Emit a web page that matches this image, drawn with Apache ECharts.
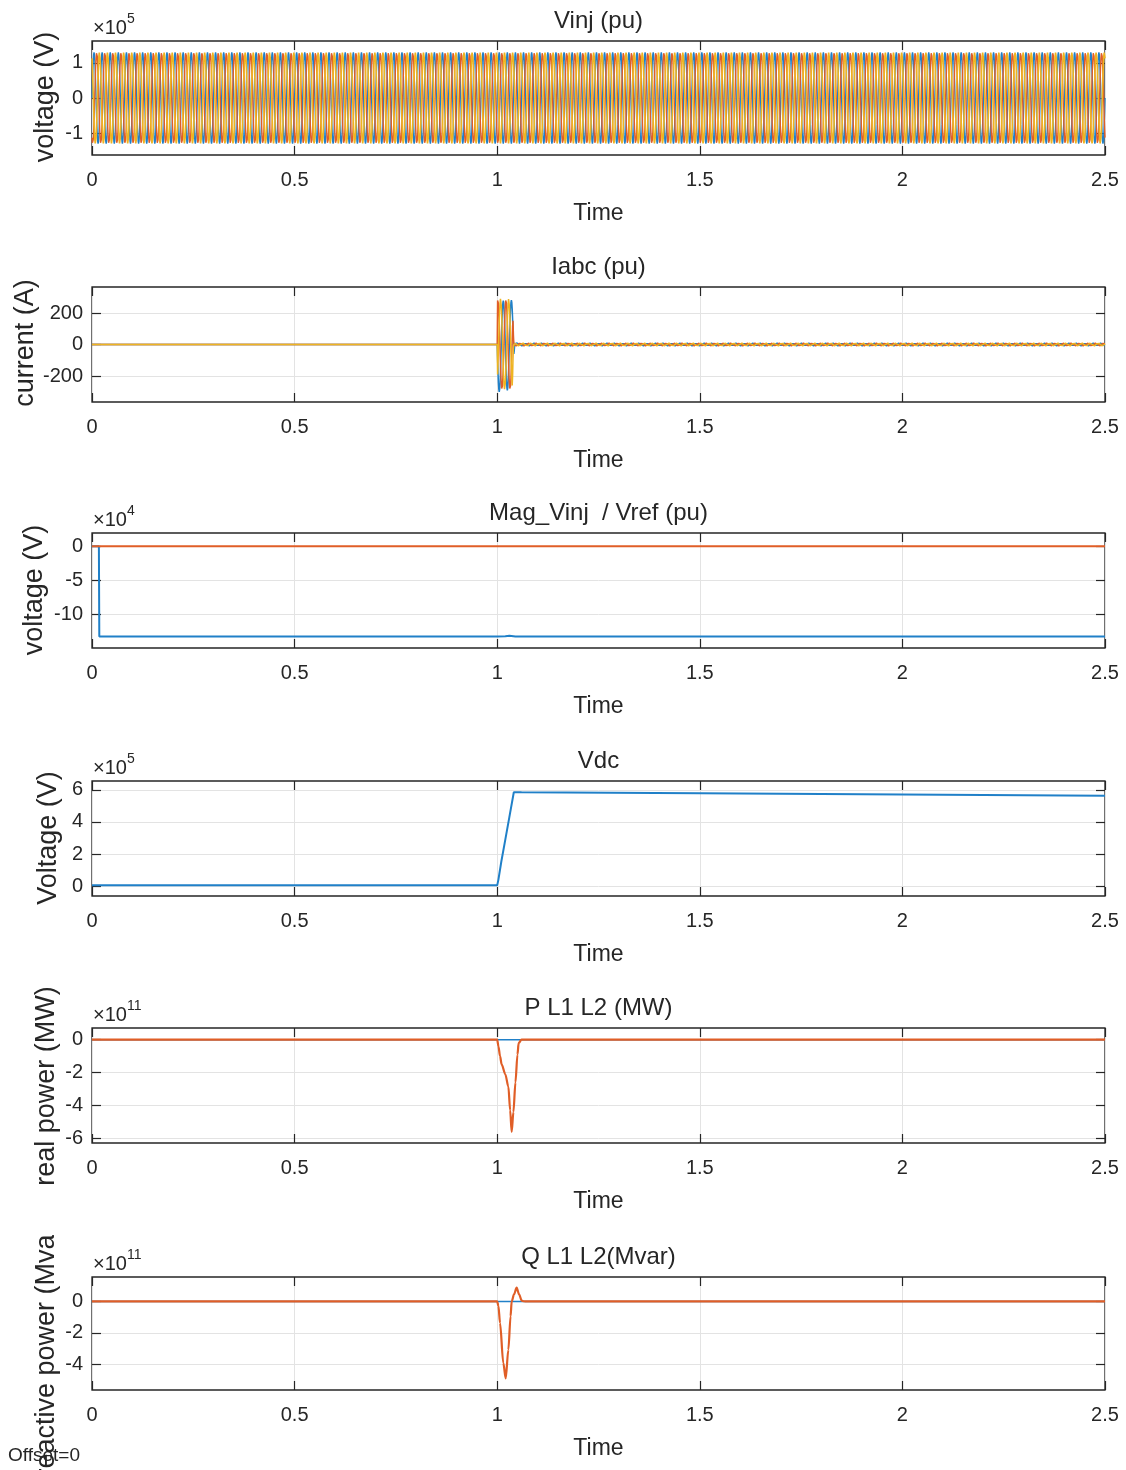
<!DOCTYPE html>
<html><head><meta charset="utf-8">
<script src="https://cdn.jsdelivr.net/npm/echarts@6/dist/echarts.min.js"></script>
<style>html,body{margin:0;padding:0;background:#fff}#c{width:1126px;height:1470px}</style>
</head><body><div id="c"></div>
<script>
// ===================== DATA =====================
const titles = ['Vinj (pu)', 'Iabc (pu)', 'Mag_Vinj  / Vref (pu)', 'Vdc', 'P L1 L2 (MW)', 'Q L1 L2(Mvar)'];
const yNames = ['voltage (V)', 'current (A)', 'voltage (V)', 'Voltage (V)', 'real power (MW)', 'reactive power (Mvar)'];
const xName = 'Time';
const xTickValues = [0, 0.5, 1, 1.5, 2, 2.5];
const yExponents = [5, null, 4, 5, 11, 11];
const yScales = [1e5, 1, 1e4, 1e5, 1e11, 1e11];
const yMins = [-162000, -365, -149600, -62500, -6.28e11, -5.62e11];
const yMaxs = [162000, 365, 19400, 656000, 0.71e11, 1.55e11];
const yTicks1 = [-100000, 0, 100000];
const yTicks2 = [-200, 0, 200];
const yTicks3 = [-100000, -50000, 0];
const yTicks4 = [0, 200000, 400000, 600000];
const yTicks5 = [-6e11, -4e11, -2e11, 0];
const yTicks6 = [-4e11, -2e11, 0];

// Plot 1: injected three-phase voltage, one 50 Hz cycle sampled every 1 ms (read amplitude ~1.3e5 V)
const vinjStep = 0.001;
const vinjCycles = 125;
const vinjCycleA = [0, 40200, 76400, 105200, 123600, 130000, 123600, 105200, 76400, 40200, 0, -40200, -76400, -105200, -123600, -130000, -123600, -105200, -76400, -40200];
const vinjCycleB = [-112600, -127200, -129300, -118800, -96600, -65000, -27000, 13600, 52900, 87000, 112600, 127200, 129300, 118800, 96600, 65000, 27000, -13600, -52900, -87000];
const vinjCycleC = [112600, 87000, 52900, 13600, -27000, -65000, -96600, -118800, -129300, -127200, -112600, -87000, -52900, -13600, 27000, 65000, 96600, 118800, 129300, 127200];

// Plot 2: currents. zero until 1.0 s, burst from 1.000 s (1 ms steps), then small ripple cycles to 2.5 s
const iabcZeroTimes = [0, 1.0];
const iabcZeroValues = [0, 0];
const iBurstStart = 1.0;
const iBurstStep = 0.001;
const iaBurst = [0, -93, -176, -243, -285, -300, -285, -243, -176, -93, 0, 86, 164, 225, 264, 278, 264, 225, 164, 86, 0, -90, -171, -235, -276, -292, -276, -235, -171, -90, 0, 87, 166, 228, 268, 282, 268, 228, 166, 87, 0, -60, -40, -10, 5];
const ibBurst = [0, 279, 283, 260, 212, 143, 59, -30, -116, -191, -247, -279, -283, -260, -212, -143, -59, 30, 116, 191, 247, 279, 283, 260, 212, 143, 59, -30, -116, -191, -247, -279, -283, -260, -212, -143, -59, 30, 116, 150, 60, 10, -5, -8, -9];
const icBurst = [0, -191, -116, -30, 59, 143, 212, 260, 290, 279, 247, 191, 116, 30, -59, -143, -212, -260, -283, -279, -247, -191, -116, -30, 59, 143, 212, 260, 288, 279, 247, 191, 116, 30, -59, -143, -212, -260, -200, -90, -20, 0, 6, 9, 8];
const iRippleEnd = 2.5;
const iaRipple = [0, 3, 5, 7, 9, 9, 9, 7, 5, 3, 0, -3, -5, -7, -9, -9, -9, -7, -5, -3];
const ibRipple = [-8, -9, -9, -8, -7, -5, -2, 1, 4, 6, 8, 9, 9, 8, 7, 5, 2, -1, -4, -6];
const icRipple = [8, 6, 4, 1, -2, -5, -7, -8, -9, -9, -8, -6, -4, -1, 2, 5, 7, 8, 9, 9];

// Plot 3: Mag_Vinj (blue) and Vref (orange)
const magVinjTimes = [0, 0.017, 0.018, 1.0, 1.02, 1.03, 1.045, 1.5, 2.5];
const magVinjValues = [0, 0, -132600, -132600, -132200, -131500, -132600, -132600, -132700];
const vrefTimes = [0, 2.5];
const vrefValues = [0, 0];

// Plot 4: Vdc
const vdcTimes = [0, 1.0, 1.003, 1.01, 1.02, 1.03, 1.041, 1.06, 1.5, 2.0, 2.5];
const vdcValues = [4000, 4000, 40000, 150000, 290000, 430000, 586000, 585000, 579000, 572000, 564000];

// Plot 5: P L1 (blue), P L2 (orange)
const pL1Times = [0, 2.5];
const pL1Values = [0, 0];
const pL2Times = [0, 1.0, 1.003, 1.007, 1.011, 1.02, 1.0275, 1.032, 1.0357, 1.04, 1.045, 1.05, 1.053, 1.06, 2.5];
const pL2Values = [0, 0, -0.4e11, -1.0e11, -1.5e11, -2.1e11, -2.85e11, -4.3e11, -5.6e11, -4.4e11, -2.6e11, -0.9e11, -0.2e11, 0, 0];

// Plot 6: Q L1 (blue), Q L2 (orange)
const qL1Times = [0, 2.5];
const qL1Values = [0, 0];
const qL2Times = [0, 1.0, 1.003, 1.007, 1.015, 1.021, 1.0275, 1.033, 1.0357, 1.0415, 1.048, 1.054, 1.0605, 1.066, 1.072, 2.5];
const qL2Values = [0, 0, -0.3e11, -1.36e11, -3.9e11, -4.88e11, -3.07e11, -0.94e11, 0, 0.45e11, 0.88e11, 0.45e11, 0.05e11, 0.01e11, 0, 0];

const offsetText = 'Offset=0';

// ===================== BUILD =====================
const FONT = '"Liberation Sans", Arial, Helvetica, sans-serif';
const TXT = '#262626';
const BLUE = '#2080c8', ORANGE = '#e05e27', YELLOW = '#eeb421';
const GRIDC = '#e3e3e3';
const yTickSets = [yTicks1, yTicks2, yTicks3, yTicks4, yTicks5, yTicks6];

const boxes = [
  {top: 41, h: 114}, {top: 287, h: 115}, {top: 533, h: 115},
  {top: 781, h: 115}, {top: 1028, h: 115}, {top: 1277, h: 113}
];
const LEFT = 92, RIGHT = 1105, W = RIGHT - LEFT;

function r6(t) { return Math.round(t * 1e6) / 1e6; }
function pairs(ts, vs) { return ts.map((t, i) => [t, vs[i]]); }
function tile(cycle, step, n) {
  const out = [];
  for (let k = 0; k <= n * cycle.length; k++) out.push([r6(k * step), cycle[k % cycle.length]]);
  return out;
}
function currentSeries(burst, ripple) {
  const out = pairs(iabcZeroTimes, iabcZeroValues);
  burst.forEach((v, k) => out.push([r6(iBurstStart + k * iBurstStep), v]));
  const t0 = iBurstStart + burst.length * iBurstStep;
  for (let j = 0; r6(t0 + j * iBurstStep) <= iRippleEnd; j++) out.push([r6(t0 + j * iBurstStep), ripple[j % ripple.length]]);
  return out;
}

const grids = [], xAxes = [], yAxes = [], titleArr = [], series = [], graphics = [];
const tickStyle = {color: TXT, width: 1.2};
boxes.forEach((b, i) => {
  grids.push({left: LEFT, top: b.top, width: W, height: b.h, show: true, borderColor: TXT, borderWidth: 1.3, containLabel: false});
  titleArr.push({text: titles[i], left: LEFT + W / 2, top: b.top - 33, textAlign: 'center', padding: 0,
    textStyle: {fontFamily: FONT, fontSize: 24, fontWeight: 'normal', color: TXT, lineHeight: 26}});
});
boxes.forEach((b, i) => {
  xAxes.push({type: 'value', gridIndex: i, min: 0, max: 2.5, interval: 0.5, position: 'bottom',
    axisLine: {show: false, onZero: false},
    axisTick: {show: true, inside: true, length: 9, lineStyle: tickStyle},
    axisLabel: {show: true, margin: 15, fontSize: 20, color: TXT, fontFamily: FONT, showMinLabel: true, showMaxLabel: true,
      formatter: v => String(v)},
    splitLine: {show: true, lineStyle: {color: GRIDC, width: 1}},
    name: xName, nameLocation: 'middle', nameGap: 47,
    nameTextStyle: {fontSize: 23, color: TXT, fontFamily: FONT}});
});
boxes.forEach((b, i) => {
  xAxes.push({type: 'value', gridIndex: i, min: 0, max: 2.5, interval: 0.5, position: 'top',
    axisLine: {show: false, onZero: false}, axisLabel: {show: false}, splitLine: {show: false},
    axisTick: {show: true, inside: true, length: 9, lineStyle: tickStyle}});
});
boxes.forEach((b, i) => {
  const sc = yScales[i];
  yAxes.push({type: 'value', gridIndex: i, min: yMins[i], max: yMaxs[i], position: 'left',
    axisLine: {show: false, onZero: false},
    axisTick: {show: true, inside: true, length: 9, customValues: yTickSets[i], lineStyle: tickStyle},
    axisLabel: {show: true, margin: 9, fontSize: 20, color: TXT, fontFamily: FONT, customValues: yTickSets[i],
      formatter: v => String(Math.round(v / sc * 100) / 100)},
    splitLine: {show: true, lineStyle: {color: GRIDC, width: 1}}});
});
boxes.forEach((b, i) => {
  yAxes.push({type: 'value', gridIndex: i, min: yMins[i], max: yMaxs[i], position: 'right',
    axisLine: {show: false, onZero: false}, axisLabel: {show: false}, splitLine: {show: false},
    axisTick: {show: true, inside: true, length: 9, customValues: yTickSets[i], lineStyle: tickStyle}});
});

function line(idx, data, color, width, extra) {
  return Object.assign({type: 'line', xAxisIndex: idx, yAxisIndex: idx, data: data, showSymbol: false, symbol: 'none',
    lineStyle: {color: color, width: width}, itemStyle: {color: color}, animation: false, silent: true, clip: true}, extra || {});
}

// Plot 1
series.push(line(0, tile(vinjCycleA, vinjStep, vinjCycles), BLUE, 1.4));
series.push(line(0, tile(vinjCycleB, vinjStep, vinjCycles), ORANGE, 1.4));
series.push(line(0, tile(vinjCycleC, vinjStep, vinjCycles), YELLOW, 1.6));
// Plot 2
series.push(line(1, currentSeries(iaBurst, iaRipple), BLUE, 1.5));
series.push(line(1, currentSeries(ibBurst, ibRipple), ORANGE, 1.5));
series.push(line(1, currentSeries(icBurst, icRipple), YELLOW, 1.5));
// Plot 3
series.push(line(2, pairs(magVinjTimes, magVinjValues), BLUE, 2));
series.push(line(2, pairs(vrefTimes, vrefValues), ORANGE, 2));
// Plot 4
series.push(line(3, pairs(vdcTimes, vdcValues), BLUE, 2));
// Plot 5
series.push(line(4, pairs(pL1Times, pL1Values), BLUE, 1.6));
series.push(line(4, pairs(pL2Times, pL2Values), ORANGE, 2.2, {smooth: 0.3, smoothMonotone: 'x'}));
// Plot 6
series.push(line(5, pairs(qL1Times, qL1Values), BLUE, 1.6));
series.push(line(5, pairs(qL2Times, qL2Values), ORANGE, 2.2, {smooth: 0.3, smoothMonotone: 'x'}));

// y-axis names
const yNamePos = [[46, 97], [26, 343], [35, 590], [49, 838], [47, 1086], [47, 1347]];
yNames.forEach((n, i) => {
  graphics.push({type: 'text', x: yNamePos[i][0], y: yNamePos[i][1], rotation: Math.PI / 2, z: 10,
    style: {text: n, fontSize: 27, fontFamily: FONT, fill: TXT, align: 'center', verticalAlign: 'middle'}});
});
// top of last y label is cut off in the reference
graphics.push({type: 'rect', shape: {x: 20, y: 1194, width: 50, height: 41}, z: 11, style: {fill: '#fff'}});

// exponent labels
boxes.forEach((b, i) => {
  if (yExponents[i] === null) return;
  graphics.push({type: 'text', x: 93, y: b.top - 13, z: 10,
    style: {text: '×10', fontSize: 20, fontFamily: FONT, fill: TXT, align: 'left', verticalAlign: 'middle'}});
  graphics.push({type: 'text', x: 127, y: b.top - 22, z: 10,
    style: {text: String(yExponents[i]), fontSize: 14, fontFamily: FONT, fill: TXT, align: 'left', verticalAlign: 'middle'}});
});
graphics.push({type: 'text', x: 8, y: 1456, z: 12,
  style: {text: offsetText, fontSize: 19, fontFamily: FONT, fill: TXT, align: 'left', verticalAlign: 'middle'}});

const chart = echarts.init(document.getElementById('c'), null, {renderer: 'canvas'});
chart.setOption({
  backgroundColor: '#fff',
  animation: false,
  title: titleArr,
  grid: grids,
  xAxis: xAxes,
  yAxis: yAxes,
  series: series,
  graphic: graphics
});
</script></body></html>
